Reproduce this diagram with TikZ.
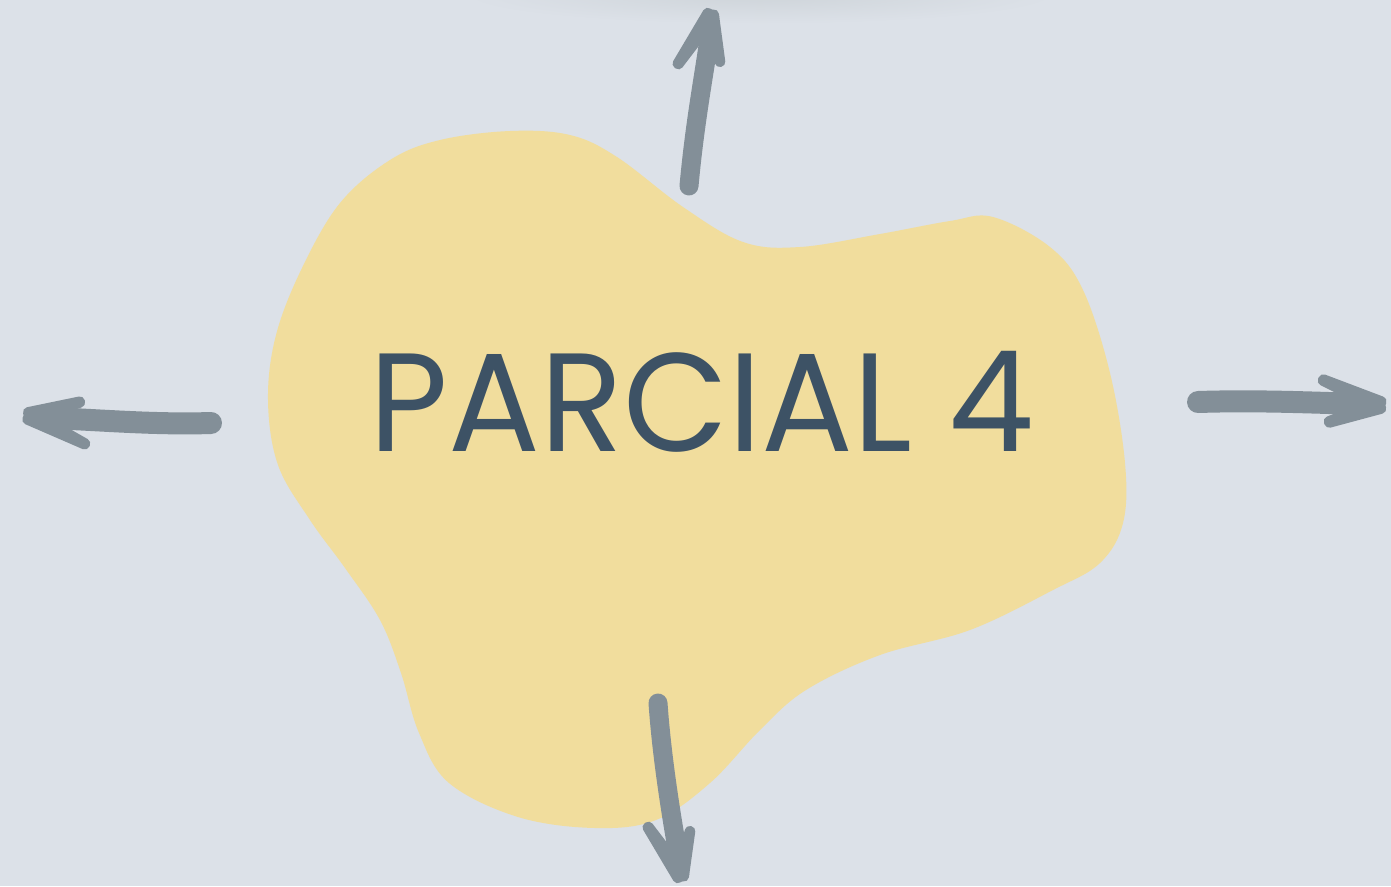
\documentclass[tikz,border=0pt]{standalone}
\usepackage{fontspec}
\usetikzlibrary{calc}
\newfontfamily\labelfont{Poppins}
\definecolor{bgc}{RGB}{220,225,232}
\definecolor{shadc}{RGB}{206,212,217}
\definecolor{blobc}{RGB}{241,221,157}
\definecolor{textc}{RGB}{61,82,101}
\definecolor{arrowc}{RGB}{131,143,152}
\tikzset{
  shaftline/.style={draw=arrowc, line width=22pt, line cap=round, line join=round},
  barbfill/.style={fill=arrowc, draw=arrowc, line width=10pt, line join=round},
  title/.style={font=\labelfont\fontsize{140}{140}\selectfont, text=textc, inner sep=0pt}
}
\newcommand\barbshape[4]{%
  \filldraw[barbfill] ($(#1)!#3!90:(#2)$) -- ($(#2)!#4!-90:(#1)$)
    -- ($(#2)!#4!90:(#1)$) -- ($(#1)!#3!-90:(#2)$) -- cycle;}
\begin{document}
\begin{tikzpicture}[x=1pt,y=-1pt]
\useasboundingbox (0,0) rectangle (1391,886);
\fill[bgc] (0,0) rectangle (1391,886);
\begin{scope}
\clip (0,0) rectangle (1391,886);
\shade[inner color=shadc, outer color=bgc] (760,-6) ellipse [x radius=300, y radius=30];
\end{scope}
% blob
\fill[blobc] plot[smooth cycle, tension=0.6] coordinates {
(510,131) (570,135) (617,157) (683,207) (743,242) (800,247) (880,234)
(950,221) (993,217) (1050,247) (1083,290) (1110,373) (1125,463) (1123,523)
(1100,563) (1053,590) (970,630) (880,655) (806,690) (760,730) (710,783)
(656,820) (595,828) (518,817) (449,783) (419,733) (401,673) (380,620)
(345,568) (310,520) (278,465) (268,400) (276,335) (302,268)
(340,203) (390,160) (440,140)};
% title
\node[title] (label) at (702,402) {\scalebox{0.973}[1]{PARCIAL 4}};
% top arrow
\coordinate (topbase) at (689,186);
\coordinate (toptip) at (711,15);
\coordinate (topl) at (678,64);
\coordinate (topr) at (720,62);
\draw[shaftline, line width=19pt] (topbase) .. controls (695,120) and (705,70) .. (710,32);
\barbshape{toptip}{topl}{4pt}{0.6pt}
\barbshape{toptip}{topr}{3pt}{0.3pt}
% left arrow
\coordinate (leftbase) at (211,423);
\coordinate (lefttip) at (29,416);
\coordinate (leftu) at (80,402);
\coordinate (leftd) at (85,444);
\draw[shaftline] (leftbase) .. controls (150,425) and (90,419) .. (44,418);
\barbshape{lefttip}{leftu}{4pt}{0.6pt}
\barbshape{lefttip}{leftd}{4pt}{0.6pt}
% right arrow
\coordinate (rightbase) at (1198,402);
\coordinate (righttip) at (1380,405);
\coordinate (rightu) at (1323,380);
\coordinate (rightd) at (1329,422);
\draw[shaftline] (rightbase) .. controls (1260,400) and (1320,403) .. (1364,404);
\barbshape{righttip}{rightu}{4pt}{0.8pt}
\barbshape{righttip}{rightd}{4pt}{0.8pt}
% bottom arrow
\coordinate (botbase) at (658,703);
\coordinate (bottip) at (681,876);
\coordinate (botl) at (648,827);
\coordinate (botr) at (690,831);
\draw[shaftline, line width=19pt] (botbase) .. controls (662,760) and (672,820) .. (679,860);
\barbshape{bottip}{botl}{4pt}{0.6pt}
\barbshape{bottip}{botr}{3pt}{0.3pt}
\end{tikzpicture}
\end{document}
